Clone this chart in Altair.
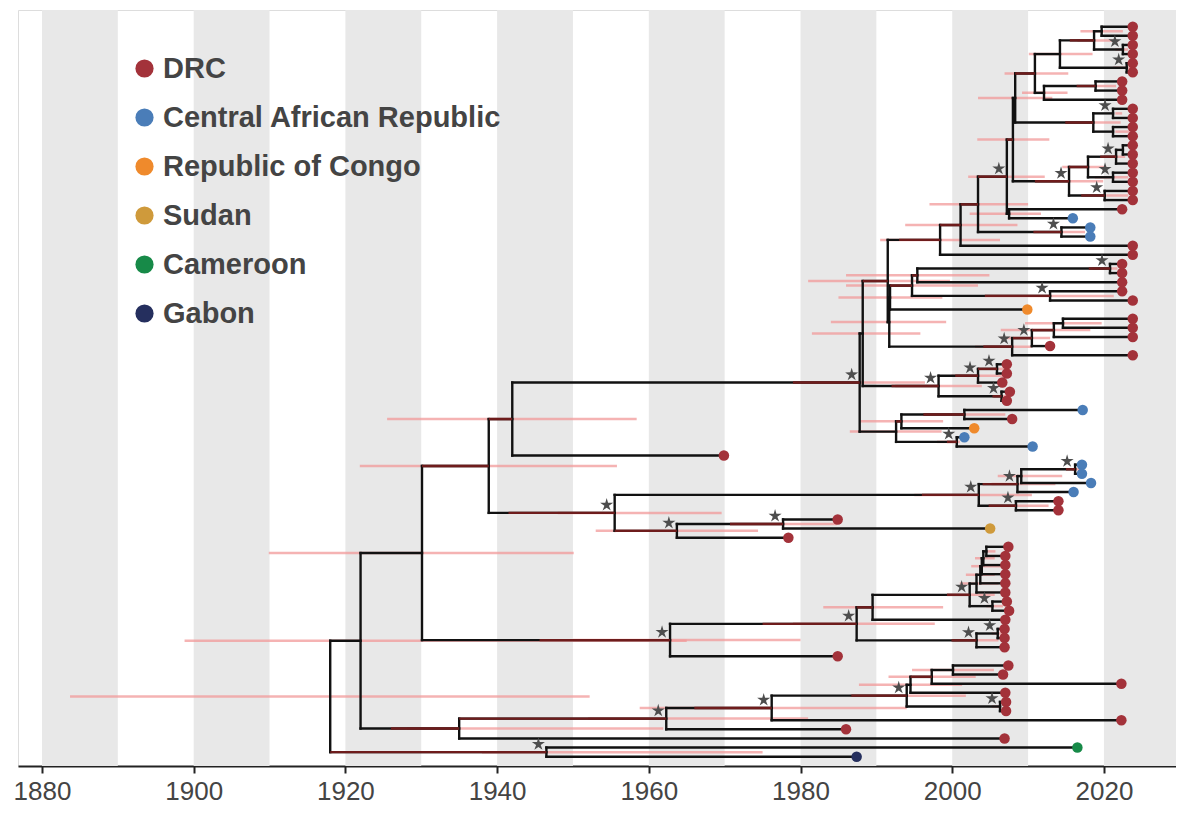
import altair as alt
import pandas as pd

# ---------------- data ----------------
TIP_DATES = [
    2023.8, 2023.8, 2023.8, 2023.8, 2023.8, 2023.8, 2022.4, 2022.4, 2022.4, 2023.8,
    2023.8, 2023.8, 2023.8, 2023.8, 2023.8, 2023.8, 2023.8, 2023.8, 2023.8, 2023.8,
    2022.4, 2015.9, 2018.2, 2018.2, 2023.8, 2023.8, 2022.4, 2022.4, 2022.4, 2022.4,
    2023.8, 2009.9, 2023.8, 2023.8, 2023.8, 2012.9, 2023.8, 2007.2, 2007.2, 2006.6,
    2007.6, 2007.2, 2017.2, 2007.9, 2002.9, 2001.6, 2010.6, 1969.9, 2017.1, 2017.1,
    2018.3, 2016.0, 2014.0, 2014.0, 1984.9, 2005.0, 1978.4, 2007.4, 2007.0, 2007.0,
    2007.0, 2007.0, 2007.0, 2007.2, 2007.5, 2007.0, 2006.9, 2006.9, 2006.9, 1984.9,
    2007.4, 2006.7, 2022.3, 2007.0, 2007.1, 2007.1, 2022.3, 1986.0, 2006.9, 2016.5,
    1987.4,
]
TIP_COUNTRY = (
    ["DRC"] * 21
    + ["Central African Republic"] * 3
    + ["DRC"] * 7
    + ["Republic of Congo"]
    + ["DRC"] * 10
    + ["Central African Republic", "DRC", "Republic of Congo",
       "Central African Republic", "Central African Republic", "DRC"]
    + ["Central African Republic"] * 4
    + ["DRC"] * 3
    + ["Sudan"]
    + ["DRC"] * 23
    + ["Cameroon", "Gabon"]
)

NODE_NAMES = [
    "a1", "a2", "a3", "a4", "a5", "a6", "a7", "a8", "b1", "b2", "b3", "W1",
    "c1", "c2", "c3", "c4", "c5", "c6", "W2", "X1", "W3", "d1", "W4", "e1", "e2",
    "f1", "U", "f2", "f3", "Tc", "V1", "V2", "V3", "V4", "Tb", "Ta",
    "g1", "g2", "g3", "S", "R", "h1", "h2", "h3", "h4", "P", "N1942",
    "i1", "i2", "i3", "i4", "i5", "j1", "j2", "N1955", "N1939",
    "la", "lb", "lc", "ld", "le", "lg", "lf", "k1", "k2", "k3", "k4", "N1963", "N1930",
    "m1", "m2", "Y1", "Y2", "N1994", "N1976", "N1962", "N1935", "N1922",
    "N1946", "root",
]
NODE_DATES = [
    2019.7, 2022.5, 2018.7, 2023.0, 2014.2, 2018.9, 2012.1, 2010.9, 2021.2, 2021.2, 2018.6, 2008.3,
    2022.5, 2021.6, 2021.2, 2017.9, 2020.1, 2015.4, 2008.0, 2007.5, 2007.2, 2014.4, 2003.4, 2001.1, 1998.4,
    2020.8, 1995.4, 2012.9, 1994.7, 1991.8, 2014.6, 2013.4, 2010.5, 2007.9, 1991.7, 1991.5,
    2005.9, 2003.4, 2006.5, 1998.2, 1988.2, 2001.6, 1993.3, 2000.6, 1992.6, 1987.8, 1942.0,
    2016.2, 2009.1, 2008.6, 2008.4, 2003.5, 1977.7, 1963.7, 1955.5, 1938.9,
    2004.5, 2004.1, 2003.9, 2003.7, 2003.2, 2005.3, 2002.3, 1989.5, 2006.0, 2003.2, 1987.4, 1962.8, 1930.1,
    2000.1, 1997.3, 1994.5, 2006.3, 1994.0, 1976.2, 1962.3, 1935.0, 1922.0,
    1946.5, 1918.0,
]
NODE_CHILDREN = [
    "t1 t2", "t3 t4", "a1 a2", "t5 t6", "a3 a4", "t7 t8", "a6 t9", "a5 a7", "t10 t11", "t12 t13", "b1 b2", "a8 b3",
    "t14 t15", "c1 t16", "t17 t18", "c2 c3", "t19 t20", "c4 c5", "W1 c6", "t21 t22", "W2 X1", "t23 t24", "W3 d1", "W4 t25", "e1 t26",
    "t27 t28", "f1 t29", "t30 t31", "U f2", "f3 t32", "t33 t34", "V1 t35", "V2 t36", "V3 t37", "Tc V4", "e2 Tb",
    "t38 t39", "g1 t40", "t41 t42", "g2 g3", "Ta S", "t43 t44", "h1 t45", "t46 t47", "h2 h3", "R h4", "P t48",
    "t49 t50", "i1 t51", "i2 t52", "t53 t54", "i3 i4", "t55 t56", "j1 t57", "i5 j2", "N1942 N1955",
    "t58 t59", "la t60", "lb t61", "lc t62", "ld t63", "t64 t65", "le lg", "lf t66", "t67 t68", "k2 t69", "k1 k3", "k4 t70", "N1939 N1963",
    "t71 t72", "m1 t73", "m2 t74", "t75 t76", "Y1 Y2", "N1994 t77", "N1976 t78", "N1962 t79", "N1930 N1935",
    "t80 t81", "N1922 N1946",
]

STAR_NODES = [
    "a2", "a4", "b1", "c2", "c3", "c5", "c6", "W3", "d1", "f1", "f2", "V3", "V4",
    "g1", "g2", "g3", "S", "h3", "P", "i1", "i3", "i4", "i5", "j1", "j2", "N1955",
    "lg", "lf", "k2", "k3", "k4", "N1963", "Y2", "N1994", "N1976", "N1962", "N1946",
]

HPD_NODES = [
    "root", "N1922", "N1930", "N1935", "N1939", "N1942", "N1946", "N1955", "j2", "j1",
    "N1962", "N1976", "N1994", "Y1", "m2", "m1", "Y2", "N1963", "k4", "k1", "k3",
    "lf", "le", "ld", "lc", "lb", "la", "lg", "k2", "i5", "i3", "i2", "i1", "i4",
    "P", "R", "Ta", "Tb", "Tc", "f3", "U", "f1", "f2", "e2", "e1", "W4", "d1", "X1",
    "W3", "W2", "W1", "a8", "a5", "a3", "a1", "a2", "a4", "a7", "a6", "b3", "b1", "b2",
    "c6", "c4", "c2", "c3", "c5", "V4", "V3", "V2", "V1", "S", "g2", "g1", "g3",
    "h4", "h2", "h1", "h3",
]
HPD_LOW = [
    1883.7, 1898.8, 1909.9, 1928.1, 1921.9, 1925.5, 1938.0, 1948.0, 1953.0, 1970.7,
    1952.0, 1958.8, 1986.5, 1987.7, 1991.6, 1994.7, 2005.2, 1950.0, 1979.0, 1983.0, 2000.1,
    1999.3, 2001.0, 2001.8, 2002.5, 2003.0, 2004.0, 2004.5, 2005.2, 1995.0, 2005.2, 2006.0, 2015.8, 2004.8,
    1980.0, 1981.5, 1981.0, 1984.0, 1985.0, 1986.0, 1986.0, 2018.5, 2004.3, 1990.5, 1993.8, 1997.0, 2014.4, 2002.3,
    2002.1, 2003.3, 2003.4, 2006.9, 2010.1, 2016.5, 2016.9, 2021.5, 2021.2, 2009.2, 2019.0, 2014.9, 2021.5, 2021.5,
    2010.9, 2014.5, 2020.0, 2018.8, 2020.3, 2003.0, 2006.4, 2006.4, 2009.6, 1992.5, 1999.9, 2005.0, 2005.5,
    1986.5, 1987.8, 1996.2, 1998.0,
]
HPD_HIGH = [
    1952.2, 1965.0, 1950.1, 1961.9, 1955.8, 1958.4, 1975.0, 1969.6, 1974.4, 1984.8,
    1981.0, 1994.0, 2001.8, 2001.3, 2003.1, 2005.5, 2006.5, 1980.0, 1997.7, 1998.8, 2006.1,
    2005.6, 2006.1, 2005.6, 2006.6, 2005.6, 2005.7, 2006.7, 2006.8, 2010.5, 2013.6, 2014.5, 2017.0, 2012.7,
    1996.4, 1995.8, 1999.7, 1999.2, 1998.7, 2003.4, 2004.9, 2021.8, 2021.3, 2006.3, 2008.6, 2010.0, 2017.5, 2011.7,
    2012.2, 2012.8, 2013.2, 2015.3, 2018.5, 2021.9, 2022.5, 2023.2, 2023.5, 2015.2, 2021.6, 2022.2, 2022.4, 2023.5,
    2019.9, 2020.3, 2022.8, 2023.2, 2023.2, 2010.5, 2012.9, 2018.2, 2019.7, 2003.9, 2006.6, 2006.8, 2007.2,
    1998.6, 1998.8, 2007.0, 2001.0,
]

MAROON_NODES = [
    "N1946", "N1935", "N1962", "N1976", "N1994", "m2", "N1939", "N1942", "P", "N1955",
    "i5", "j2", "j1", "N1963", "k4", "k1", "lf", "k3", "Ta", "S", "e2", "e1", "W4",
    "W3", "W2", "a8", "a3", "b3", "c6", "c4", "c2", "c5", "a6", "V4", "V3", "V2",
    "f3", "U", "f1", "f2", "d1", "g2", "g1", "g3", "h2", "h1", "h3", "i3", "i4", "i1",
]
MAROON_FROM = [
    1918.0, 1926.0, 1935.0, 1966.0, 1986.7, 1994.5, 1930.1, 1938.9, 1979.0, 1941.5,
    1996.0, 1955.5, 1970.7, 1945.6, 1975.0, 1987.4, 1999.3, 1999.9, 1988.2, 1992.0, 1993.0, 1998.4, 2001.1,
    2003.4, 2007.2, 2008.3, 2015.5, 2014.9, 2010.9, 2015.4, 2019.5, 2017.0, 2016.4, 2004.1, 2008.0, 2010.5,
    1991.8, 1994.7, 2018.0, 2004.3, 2010.7, 2000.4, 2003.4, 2005.3, 1992.6, 1996.2, 1999.3, 2004.0, 2004.8, 2015.0,
]
MAROON_TO = [
    1946.5, 1935.0, 1962.3, 1976.2, 1994.0, 1997.3, 1938.9, 1942.0, 1987.8, 1955.5,
    2003.5, 1963.7, 1977.7, 1962.8, 1987.4, 1989.5, 2002.3, 2003.2, 1991.5, 1998.2, 1998.4, 2001.1, 2003.4,
    2007.2, 2008.0, 2010.9, 2018.7, 2018.6, 2015.4, 2017.9, 2021.6, 2020.1, 2018.9, 2007.9, 2010.5, 2013.4,
    1994.7, 1995.4, 2020.8, 2012.9, 2014.4, 2003.4, 2005.9, 2006.5, 1993.3, 2001.6, 2000.6, 2008.6, 2008.4, 2016.2,
]

COUNTRIES = ["DRC", "Central African Republic", "Republic of Congo", "Sudan", "Cameroon", "Gabon"]
COUNTRY_COLORS = ["#A3323A", "#4A7DB8", "#EF8A2C", "#CF9A3B", "#178A48", "#252F5E"]

BAND_START = [1880, 1900, 1920, 1940, 1960, 1980, 2000, 2020]
TICKS = [1880, 1900, 1920, 1940, 1960, 1980, 2000, 2020]

# ---------------- tree layout ----------------
date = {f"t{i+1}": d for i, d in enumerate(TIP_DATES)}
ypos = {f"t{i+1}": float(i) for i in range(len(TIP_DATES))}
parent = {}
vert = []
for name, d, ch in zip(NODE_NAMES, NODE_DATES, NODE_CHILDREN):
    kids = ch.split()
    date[name] = d
    ys = [ypos[k] for k in kids]
    ypos[name] = (ys[0] + ys[-1]) / 2
    vert.append({"x": d, "x2": d, "y": ys[0], "y2": ys[-1]})
    for k in kids:
        parent[k] = name
horiz = [{"x": date[parent[n]], "x2": date[n], "y": ypos[n], "y2": ypos[n]} for n in parent]
seg_df = pd.DataFrame(vert + horiz)

maroon_df = pd.DataFrame({
    "x": MAROON_FROM, "x2": MAROON_TO, "y": [ypos[n] for n in MAROON_NODES],
})
hpd_df = pd.DataFrame({
    "x": HPD_LOW, "x2": HPD_HIGH, "y": [ypos[n] for n in HPD_NODES],
})
tips_df = pd.DataFrame({
    "x": TIP_DATES, "y": [ypos[f"t{i+1}"] for i in range(len(TIP_DATES))],
    "country": TIP_COUNTRY,
})
star_df = pd.DataFrame({"x": [date[n] for n in STAR_NODES], "y": [ypos[n] for n in STAR_NODES]})
band_df = pd.DataFrame({"s": BAND_START, "e": [b + 10 for b in BAND_START]})

# ---------------- chart ----------------
W, H = 1158, 756
xscale = alt.Scale(domain=[1876.84, 2029.5], nice=False, zero=False)
yscale = alt.Scale(domain=[-1.83, 81.02], nice=False, zero=False, reverse=True)
xaxis = alt.Axis(values=TICKS, format="d", grid=False, domainColor="#222", domainWidth=2,
                 tickColor="#222", tickWidth=2, tickSize=7, labelFontSize=26,
                 labelColor="#444", labelFont="Liberation Sans", labelPadding=5, title=None)


def X(f):
    return alt.X(f, type="quantitative", scale=xscale, axis=xaxis)


def Y(f):
    return alt.Y(f, type="quantitative", scale=yscale, axis=None)


bands = alt.Chart(band_df).mark_rect(color="#E8E8E8", clip=True).encode(
    x=X("s"), x2="e", y=alt.value(0), y2=alt.value(H))

hpd = alt.Chart(hpd_df).mark_rule(color="#F29A9A", strokeWidth=2.5, opacity=0.75).encode(
    x=X("x"), x2="x2", y=Y("y"))

branches = alt.Chart(seg_df).mark_rule(color="#111111", strokeWidth=2.4, strokeCap="square").encode(
    x=X("x"), x2="x2", y=Y("y"), y2="y2")

maroon = alt.Chart(maroon_df).mark_rule(color="#6E1C1C", strokeWidth=2.4).encode(
    x=X("x"), x2="x2", y=Y("y"))

tips = alt.Chart(tips_df).mark_circle(size=110, opacity=1).encode(
    x=X("x"), y=Y("y"),
    color=alt.Color("country:N", scale=alt.Scale(domain=COUNTRIES, range=COUNTRY_COLORS),
                    legend=alt.Legend(title=None, orient="none", legendX=112, legendY=44,
                                      labelFontSize=29, labelFont="Liberation Sans",
                                      labelFontWeight="bold", labelColor="#444",
                                      symbolType="circle", symbolSize=330, symbolStrokeWidth=0,
                                      symbolOpacity=1, rowPadding=19, labelOffset=4,
                                      padding=0, labelLimit=1000)))

STAR_PATH = ("M0,-1L0.2,-0.32L0.95,-0.31L0.33,0.12L0.59,0.81L0,0.4L-0.59,0.81"
             "L-0.33,0.12L-0.95,-0.31L-0.2,-0.32Z")
stars = alt.Chart(star_df).mark_point(shape=STAR_PATH, filled=True, size=190, color="#4D4D4D",
                                      opacity=1, xOffset=-8, yOffset=-8).encode(
    x=X("x"), y=Y("y"))

chart = alt.layer(bands, hpd, branches, maroon, tips, stars).properties(
    width=W, height=H,
    padding={"left": 10, "right": 0, "top": 2, "bottom": 40},
    autosize=alt.AutoSizeParams(type="none"),
).configure_view(stroke=None).configure(background="white")

chart.save("out.html", embed_options={"renderer": "svg", "actions": False})
